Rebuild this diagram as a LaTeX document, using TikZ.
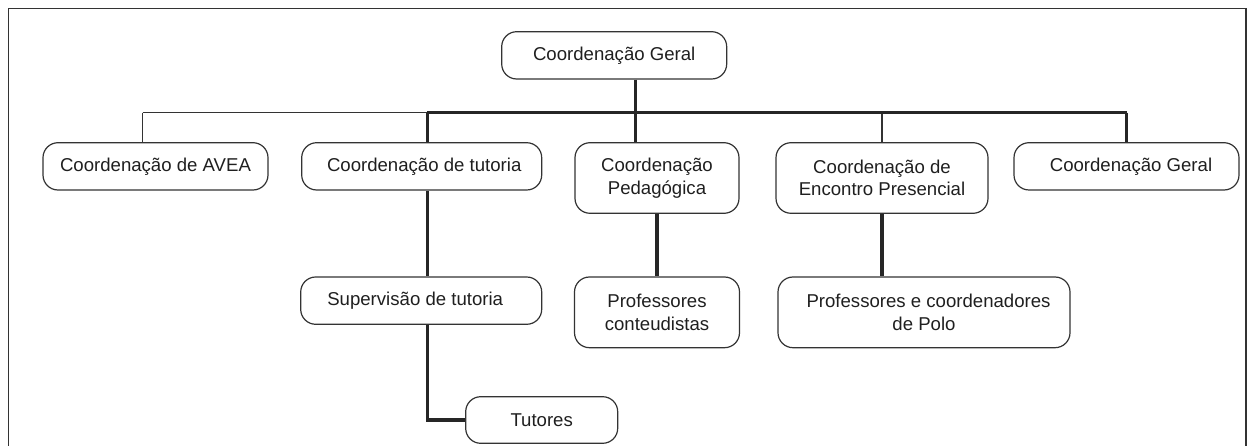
\documentclass[tikz,border=0pt]{standalone}
\usepackage{fontspec}
\setmainfont{Liberation Sans}
\begin{document}
\begin{tikzpicture}[x=1pt,y=-1pt,
  box/.style={draw=black!80, line width=1.2pt, rounded corners=15pt, inner sep=0pt,
    align=center, text=black!88, font=\fontsize{18.6pt}{22.7pt}\selectfont},
  thinline/.style={draw=black!80, line width=1.2pt},
  thickline/.style={draw=black!85, line width=3.2pt}]
\useasboundingbox (0,0) rectangle (1253,446);
\draw[line width=1.3pt, draw=black!80] (8.5,450) -- (8.5,8.3) -- (1246,8.3) -- (1246,450);

\node[box, minimum width=225pt, minimum height=47.3pt] (top) at (614.2,55.35) {Coordenação Geral};
\node[box, minimum width=225pt, minimum height=47.3pt] (avea) at (155.5,166.35) {Coordenação de AVEA};
\node[box, minimum width=240pt, minimum height=47.3pt] (tut) at (421.7,166.35) {\hspace*{5pt}Coordenação de tutoria};
\node[box, minimum width=164pt, minimum height=70.6pt] (ped) at (657,178) {Coordenação\\Pedagógica};
\node[box, minimum width=212pt, minimum height=70.6pt] (enc) at (882,178) {Coordenação de\\Encontro Presencial};
\node[box, minimum width=225pt, minimum height=47.3pt] (geral) at (1126.5,166.35) {\hspace*{9pt}Coordenação Geral};
\node[box, minimum width=241pt, minimum height=47.3pt] (sup) at (421.2,300.65) {Supervisão de tutoria\hspace*{12pt}};
\node[box, minimum width=165pt, minimum height=70.7pt] (prof) at (657,312.35) {Professores\\conteudistas};
\node[box, minimum width=292pt, minimum height=70.7pt] (polo) at (924,312.35) {\hspace*{9pt}Professores e coordenadores\\de Polo};
\node[box, minimum width=152pt, minimum height=46.6pt] (tutores) at (541.7,420) {Tutores};

\coordinate (jA) at (142.7,112.7);
\coordinate (jT) at (427.3,112.7);
\coordinate (jE) at (882,112.7);
\coordinate (jG) at (1126.7,112.7);
\coordinate (jS) at (635.7,112.7);
\coordinate (bend) at (427.3,420);

\draw[thinline] (jA) -- (jT);
\draw[thinline] (jA) -- (jA |- avea.north);
\draw[thinline] (jE) -- (jE |- enc.north);
\draw[thickline] (jT) -- (jG);
\draw[thickline] (jS |- top.south) -- (jS |- ped.north);
\draw[thickline] (jT) -- (jT |- tut.north);
\draw[thickline] (jG) -- (jG |- geral.north);
\draw[thickline] (jT |- tut.south) -- (jT |- sup.north);
\draw[thickline] (jT |- sup.south) -- (bend) -- (tutores.west);
\draw[thickline] (ped.south) -- (prof.north);
\draw[thickline] (jE |- enc.south) -- (jE |- polo.north);
\end{tikzpicture}
\end{document}
